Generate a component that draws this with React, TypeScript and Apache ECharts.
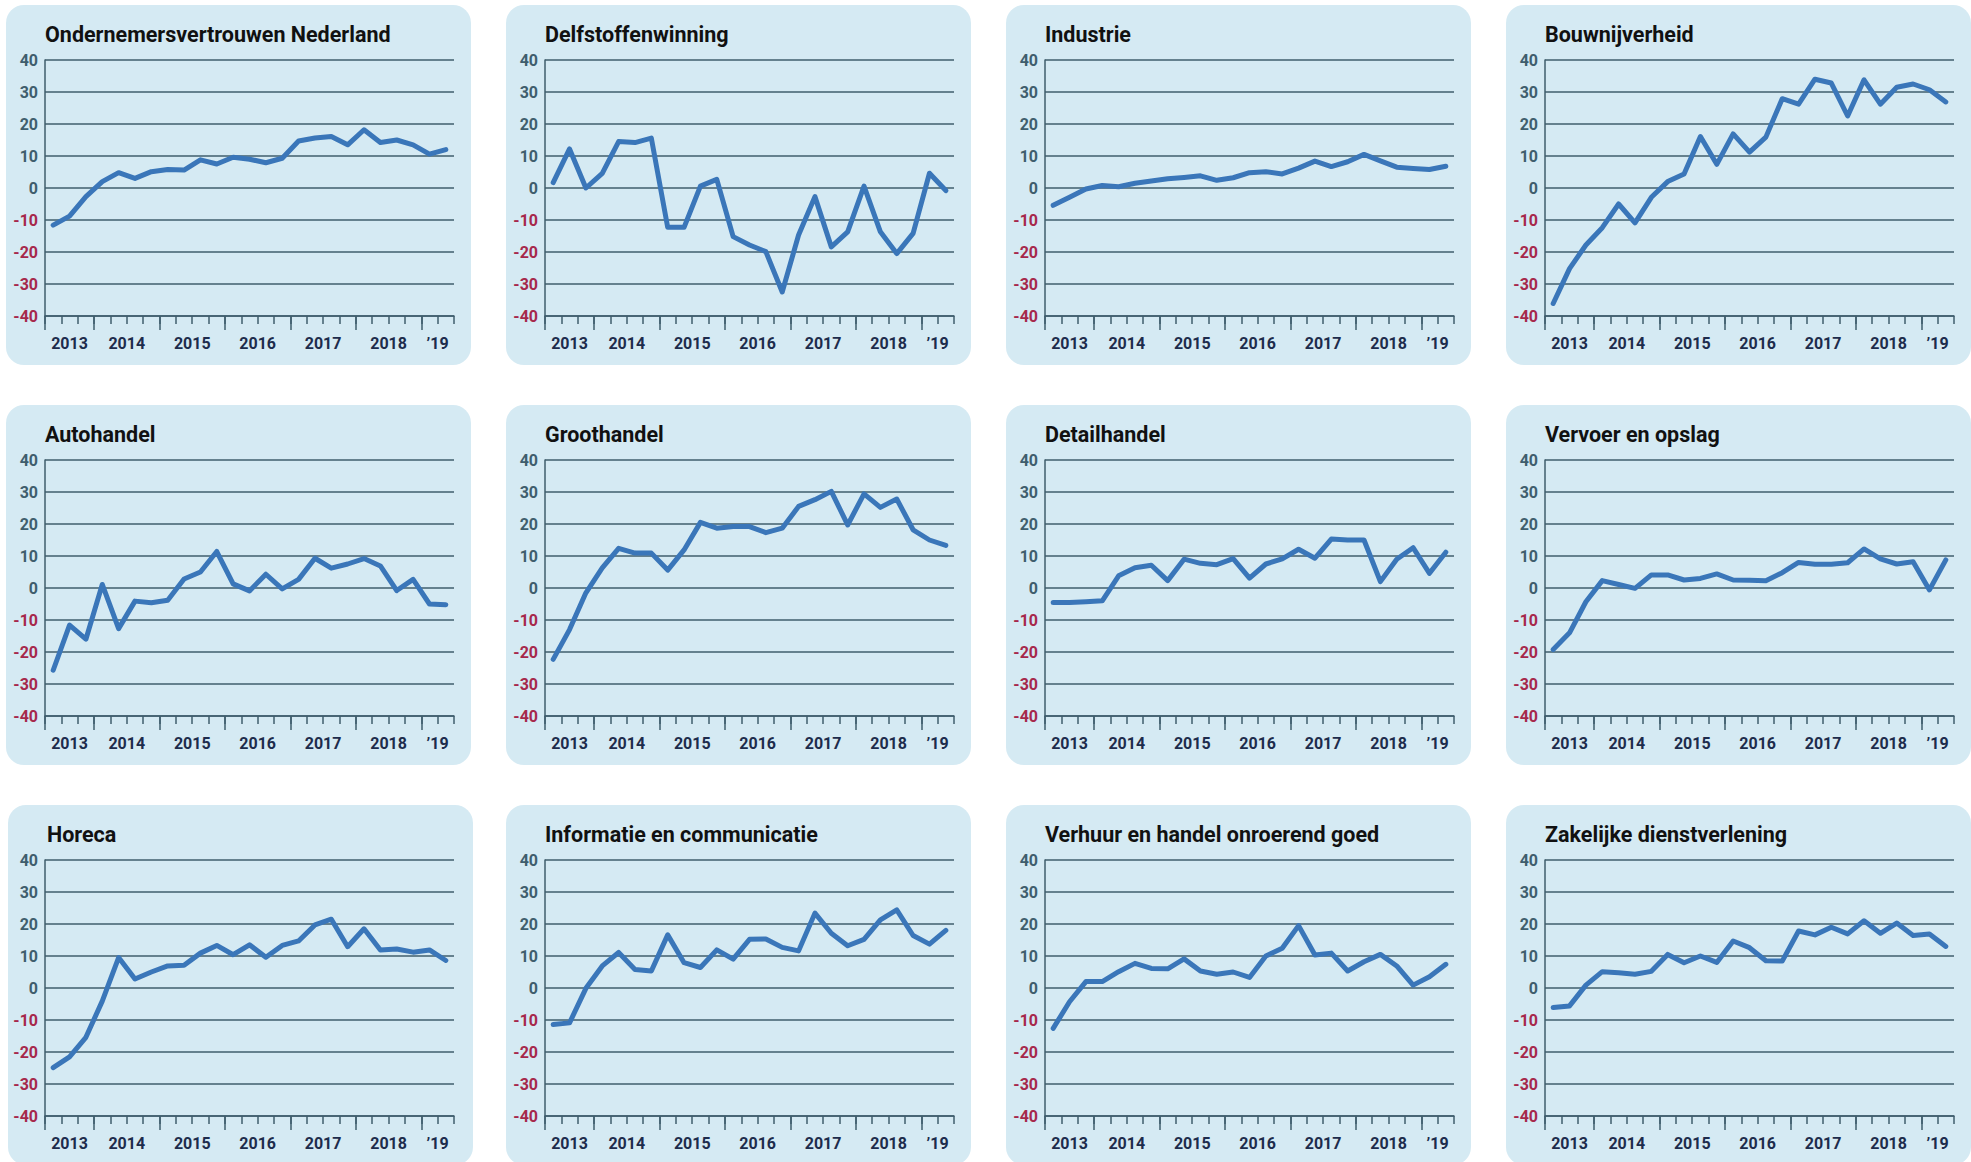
import React, { useEffect, useRef } from "react";
import * as echarts from "echarts";

// Quarterly categories (2013 Q2 – 2019 Q2)
const quarters = [
  "2013-K2", "2013-K3", "2013-K4",
  "2014-K1", "2014-K2", "2014-K3", "2014-K4",
  "2015-K1", "2015-K2", "2015-K3", "2015-K4",
  "2016-K1", "2016-K2", "2016-K3", "2016-K4",
  "2017-K1", "2017-K2", "2017-K3", "2017-K4",
  "2018-K1", "2018-K2", "2018-K3", "2018-K4",
  "2019-K1", "2019-K2",
];
const yearBoundaries = [0, 3, 7, 11, 15, 19, 23];
const yearLabelPos = [1.5, 5, 9, 13, 17, 21, 24];
const yearLabels = ["2013", "2014", "2015", "2016", "2017", "2018", "\u201919"];

const titles = [
  "Ondernemersvertrouwen Nederland",
  "Delfstoffenwinning",
  "Industrie",
  "Bouwnijverheid",
  "Autohandel",
  "Groothandel",
  "Detailhandel",
  "Vervoer en opslag",
  "Horeca",
  "Informatie en communicatie",
  "Verhuur en handel onroerend goed",
  "Zakelijke dienstverlening",
];

const ondernemers = [-11.6, -8.8, -2.7, 2.0, 4.8, 3.0, 5.1, 5.8, 5.6, 8.8, 7.5, 9.6, 9.0, 7.9, 9.3, 14.7, 15.6, 16.1, 13.5, 18.2, 14.2, 15.0, 13.5, 10.6, 12.0];
const delfstoffen = [1.7, 12.2, 0, 4.6, 14.5, 14.2, 15.6, -12.3, -12.3, 0.6, 2.7, -15.2, -17.8, -19.9, -32.5, -14.7, -2.7, -18.4, -13.7, 0.6, -13.7, -20.5, -14.2, 4.6, -0.8];
const industrie = [-5.4, -2.9, -0.3, 0.8, 0.4, 1.5, 2.2, 2.9, 3.3, 3.8, 2.4, 3.2, 4.8, 5.1, 4.4, 6.2, 8.4, 6.7, 8.2, 10.5, 8.5, 6.5, 6.1, 5.8, 6.8];
const bouw = [-36.1, -25.2, -17.8, -12.4, -5.0, -10.9, -2.9, 2.0, 4.4, 16.1, 7.4, 16.9, 11.2, 15.9, 27.9, 26.2, 34.0, 32.8, 22.5, 33.8, 26.2, 31.5, 32.5, 30.7, 26.9];
const autohandel = [-25.7, -11.6, -16.0, 1.1, -12.7, -4.1, -4.6, -3.8, 2.8, 5.0, 11.4, 1.3, -0.9, 4.3, -0.3, 2.7, 9.3, 6.2, 7.5, 9.2, 6.9, -0.8, 2.7, -5.0, -5.2];
const groothandel = [-22.3, -13.0, -1.5, 6.3, 12.4, 10.9, 10.9, 5.6, 11.9, 20.5, 18.7, 19.2, 19.2, 17.3, 18.7, 25.5, 27.6, 30.2, 19.7, 29.4, 25.2, 27.8, 18.2, 15.0, 13.3];
const detailhandel = [-4.5, -4.5, -4.3, -4.0, 3.8, 6.3, 7.1, 2.3, 9.0, 7.7, 7.3, 9.2, 3.1, 7.5, 9.1, 12.1, 9.3, 15.3, 15.0, 15.0, 2.0, 9.0, 12.6, 4.6, 11.2];
const vervoer = [-19.2, -14.0, -4.3, 2.3, 1.1, -0.1, 4.1, 4.1, 2.5, 3.0, 4.4, 2.5, 2.4, 2.3, 4.8, 8.0, 7.4, 7.4, 7.9, 12.2, 9.1, 7.5, 8.2, -0.6, 8.8];
const horeca = [-24.9, -21.5, -15.4, -4.1, 9.5, 2.8, 5.0, 6.9, 7.1, 10.9, 13.3, 10.4, 13.5, 9.6, 13.3, 14.7, 19.7, 21.5, 12.9, 18.5, 11.9, 12.2, 11.2, 11.9, 8.6];
const informatie = [-11.4, -10.9, -0.1, 6.9, 11.1, 5.8, 5.3, 16.6, 7.9, 6.4, 11.9, 9.0, 15.2, 15.3, 12.7, 11.6, 23.4, 17.1, 13.2, 15.2, 21.3, 24.4, 16.4, 13.7, 18.0];
const verhuur = [-12.6, -4.3, 2.0, 2.0, 5.1, 7.7, 6.1, 6.0, 9.1, 5.3, 4.3, 5.0, 3.3, 10.0, 12.4, 19.5, 10.3, 10.9, 5.3, 8.2, 10.5, 6.9, 0.9, 3.5, 7.4];
const zakelijk = [-6.1, -5.6, 0.9, 5.1, 4.8, 4.3, 5.2, 10.5, 7.9, 10.0, 8.0, 14.7, 12.6, 8.5, 8.4, 17.8, 16.6, 19.0, 16.9, 21.0, 17.1, 20.3, 16.4, 16.9, 13.0];

const allSeries = [
  ondernemers, delfstoffen, industrie, bouw,
  autohandel, groothandel, detailhandel, vervoer,
  horeca, informatie, verhuur, zakelijk,
];

const PANEL_BG = "#d5eaf3";
const AXIS_COLOR = "#3f5e6d";
const POS_LABEL = "#3f5e6d";
const NEG_LABEL = "#a6284b";
const YEAR_COLOR = "#1d2c4c";
const LINE_COLOR = "#3a76b9";
const FONT = "Roboto, 'Noto Sans', sans-serif";

export default function App() {
  const ref = useRef<HTMLDivElement>(null);

  useEffect(() => {
    if (!ref.current) return;
    const chart = echarts.init(ref.current, undefined, { renderer: "svg" });

    const grids: any[] = [];
    const xAxes: any[] = [];
    const yAxes: any[] = [];
    const series: any[] = [];
    const titleOpt: any[] = [];
    const graphics: any[] = [];

    allSeries.forEach((data, k) => {
      const c = k % 4;
      const r = Math.floor(k / 4);
      const shift = k === 8 ? 2 : 0;
      const ax = 45 + 500 * c;
      const top = 60 + 400 * r;

      graphics.push({
        type: "rect",
        z: -10,
        shape: { x: 6 + 500 * c + shift, y: 5 + 400 * r, width: 465, height: 360, r: 18 },
        style: { fill: PANEL_BG },
      });

      grids.push({ left: ax, top, width: 409, height: 256 });

      const lineStyle = { color: AXIS_COLOR, width: 1.5 };

      xAxes.push({
        type: "category",
        gridIndex: k,
        data: quarters,
        boundaryGap: true,
        position: "bottom",
        axisLine: { show: true, onZero: false, lineStyle },
        axisTick: { show: true, interval: 0, length: 8, lineStyle },
        axisLabel: { show: false },
        splitLine: { show: false },
      });
      xAxes.push({
        type: "value",
        gridIndex: k,
        min: 0,
        max: 25,
        position: "bottom",
        axisLine: { show: false, onZero: false },
        axisTick: { show: true, customValues: yearBoundaries, length: 14, lineStyle },
        axisLabel: {
          show: true,
          customValues: yearLabelPos,
          margin: 19,
          color: YEAR_COLOR,
          fontFamily: FONT,
          fontWeight: "bold",
          fontSize: 16,
          formatter: (v: number) => {
            const i = yearLabelPos.findIndex((p) => Math.abs(p - v) < 0.01);
            return i >= 0 ? yearLabels[i] : "";
          },
        },
        splitLine: { show: false },
      });
      yAxes.push({
        type: "value",
        gridIndex: k,
        min: -40,
        max: 40,
        interval: 10,
        axisLine: { show: true, lineStyle },
        axisTick: { show: false },
        splitLine: { show: true, lineStyle },
        axisLabel: {
          margin: 7,
          fontFamily: FONT,
          fontWeight: "bold",
          fontSize: 16,
          color: (v: any) => (Number(v) < 0 ? NEG_LABEL : POS_LABEL),
        },
      });
      series.push({
        type: "line",
        xAxisIndex: 2 * k,
        yAxisIndex: k,
        data,
        symbol: "none",
        showSymbol: false,
        lineStyle: { color: LINE_COLOR, width: 5, cap: "round", join: "round" },
        z: 5,
      });
      titleOpt.push({
        text: titles[k],
        left: ax + shift,
        top: 23 + 400 * r,
        padding: 0,
        textStyle: {
          fontFamily: FONT,
          fontWeight: "bold",
          fontSize: 21.5,
          color: "#111111",
        },
      });
    });

    chart.setOption({
      animation: false,
      backgroundColor: "#ffffff",
      title: titleOpt,
      grid: grids,
      xAxis: xAxes,
      yAxis: yAxes,
      series,
      graphic: { elements: graphics },
    });

    return () => chart.dispose();
  }, []);

  return (
    <div
      ref={ref}
      style={{ position: "absolute", left: 0, top: 0, width: 1971, height: 1162 }}
    />
  );
}
